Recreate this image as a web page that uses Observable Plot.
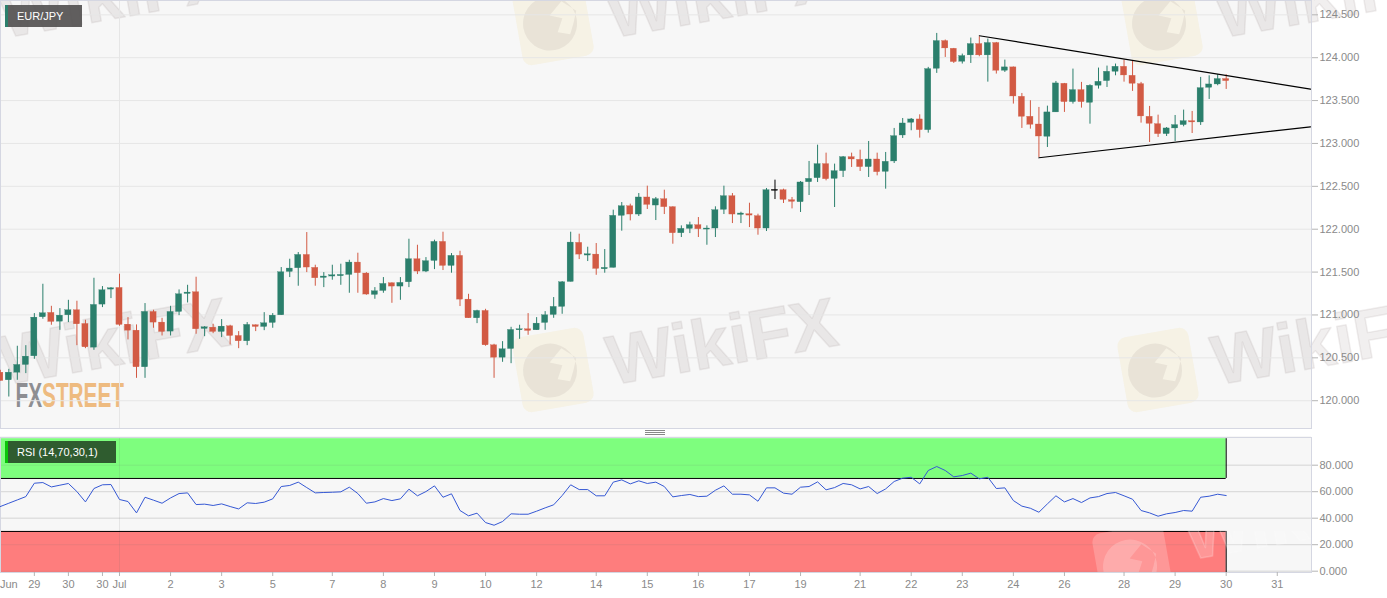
<!DOCTYPE html>
<html>
<head>
<meta charset="utf-8">
<script src="https://cdn.jsdelivr.net/npm/d3@7"></script>
<script src="https://cdn.jsdelivr.net/npm/@observablehq/plot@0.6"></script>
<style>
html,body{margin:0;padding:0;background:#fff;overflow:hidden}
#page{position:relative;width:1387px;height:598px;font-family:"Liberation Sans",Arial,sans-serif}
#page svg{position:absolute;left:0;background:transparent}
.tag{position:absolute;color:#fff;line-height:22px;box-sizing:border-box}
</style>
</head>
<body>
<div id="page"></div>
<script>
const pair = "EUR/JPY";
const rsiName = "RSI (14,70,30,1)";
const opens = [120.327,120.238,120.327,120.417,120.518,120.973,121.024,120.922,120.996,121.055,120.895,120.619,121.121,121.296,121.315,120.887,120.817,120.390,121.035,120.911,120.806,121.035,121.245,121.265,120.837,120.852,120.802,120.868,120.755,120.693,120.880,120.860,120.907,120.996,121.502,121.545,121.700,121.549,121.432,121.448,121.452,121.467,121.611,121.483,121.234,121.280,121.370,121.331,121.381,121.650,121.506,121.630,121.852,121.572,121.689,121.179,120.961,121.047,120.646,120.502,120.603,120.821,120.833,120.821,120.907,121.000,121.094,121.385,121.841,121.693,121.704,121.533,121.549,122.156,122.268,122.171,122.370,122.276,122.350,122.257,121.953,122.004,122.047,121.996,122.008,122.226,122.385,122.167,122.175,122.152,122.008,122.447,122.455,122.338,122.315,122.548,122.595,122.759,122.587,122.677,122.840,122.809,122.724,122.813,122.669,122.790,123.093,123.241,123.280,123.155,123.871,124.194,124.104,123.953,124.027,124.159,124.027,124.171,123.848,123.887,123.544,123.311,123.221,123.078,123.362,123.696,123.482,123.622,123.474,123.673,123.727,123.836,123.894,123.789,123.692,123.311,123.225,123.109,123.175,123.214,123.260,123.245,123.649,123.688,123.751];
const closes = [120.230,120.327,120.417,120.514,120.969,121.020,120.919,120.992,121.055,120.891,120.623,121.117,121.288,121.311,120.884,120.817,120.390,121.035,120.911,120.802,121.035,121.241,121.261,120.833,120.856,120.802,120.864,120.755,120.693,120.884,120.860,120.903,120.992,121.498,121.541,121.700,121.553,121.428,121.448,121.463,121.467,121.611,121.487,121.238,121.276,121.362,121.331,121.374,121.650,121.506,121.627,121.852,121.572,121.689,121.179,120.961,121.047,120.646,120.502,120.600,120.825,120.833,120.814,120.899,120.996,121.094,121.381,121.844,121.704,121.708,121.537,121.549,122.156,122.268,122.171,122.370,122.284,122.350,122.257,121.953,122.004,122.047,122.000,122.008,122.222,122.385,122.171,122.183,122.159,122.008,122.455,122.459,122.342,122.319,122.545,122.587,122.759,122.583,122.677,122.840,122.813,122.724,122.813,122.665,122.786,123.085,123.233,123.280,123.155,123.867,124.194,124.108,123.949,124.019,124.159,124.027,124.171,123.848,123.887,123.548,123.311,123.218,123.081,123.362,123.700,123.482,123.622,123.482,123.673,123.719,123.836,123.894,123.793,123.696,123.315,123.229,123.109,123.175,123.214,123.260,123.245,123.645,123.688,123.751,123.727];
const highs = [120.355,120.366,120.635,120.642,121.016,121.358,121.101,121.074,121.171,121.160,120.938,121.428,121.331,121.319,121.475,120.969,120.884,121.133,121.055,120.961,121.101,121.292,121.346,121.440,120.864,120.891,120.946,120.880,120.806,120.911,120.884,121.027,121.016,121.553,121.650,121.728,121.961,121.580,121.494,121.580,121.592,121.638,121.720,121.494,121.319,121.436,121.374,121.436,121.883,121.813,121.669,121.872,121.965,121.716,121.743,121.241,121.055,121.066,120.658,120.689,120.856,120.880,121.016,120.969,121.039,121.203,121.389,121.965,121.942,121.790,121.833,121.763,122.222,122.311,122.292,122.416,122.502,122.370,122.455,122.261,122.039,122.082,122.136,122.039,122.261,122.502,122.416,122.198,122.303,122.175,122.475,122.572,122.467,122.370,122.556,122.790,122.980,122.887,122.759,122.848,122.887,122.922,123.023,122.887,122.895,123.175,123.291,123.291,123.334,123.887,124.283,124.206,124.108,124.042,124.229,124.245,124.217,124.178,123.972,123.891,123.583,123.498,123.420,123.435,123.723,123.700,123.867,123.712,123.684,123.879,123.902,123.926,123.972,123.957,123.712,123.432,123.330,123.186,123.326,123.389,123.373,123.770,123.789,123.801,123.801];
const lows = [120.230,120.043,120.238,120.316,120.483,120.950,120.880,120.821,120.911,120.642,120.607,120.588,121.086,121.191,120.868,120.709,120.261,120.261,120.845,120.755,120.755,120.992,121.140,120.775,120.747,120.782,120.736,120.650,120.607,120.642,120.806,120.817,120.845,120.996,121.436,121.335,121.494,121.335,121.319,121.405,121.346,121.253,121.253,121.230,121.183,121.253,121.136,121.171,121.319,121.471,121.494,121.529,121.518,121.487,121.098,120.961,120.899,120.635,120.261,120.448,120.432,120.716,120.763,120.821,120.821,120.961,121.008,121.385,121.646,121.623,121.463,121.487,121.549,121.977,122.097,122.148,122.230,122.101,122.171,121.825,121.903,121.949,121.903,121.813,121.903,122.171,122.066,122.066,122.019,121.930,121.973,122.346,122.300,122.237,122.195,122.393,122.545,122.564,122.253,122.603,122.720,122.673,122.603,122.622,122.467,122.766,123.058,123.148,123.062,123.120,123.817,124.003,123.933,123.926,123.933,124.011,123.715,123.809,123.828,123.459,123.175,123.167,122.836,122.953,123.362,123.362,123.459,123.412,123.225,123.634,123.653,123.789,123.715,123.607,123.237,123.011,123.070,123.081,123.023,123.194,123.116,123.210,123.513,123.673,123.630];
const rsi = [48.8,51.3,53.8,56.3,66.4,66.9,63.6,64.9,66.2,60.1,52.3,62.4,65.2,65.4,54.1,52.6,44.0,55.8,53.6,51.3,55.3,58.6,59.1,50.3,50.6,49.6,50.8,48.8,47.0,51.6,51.1,52.1,54.6,63.9,64.7,67.2,63.1,59.1,59.4,59.6,59.9,63.4,58.6,51.3,52.3,54.8,53.3,54.6,61.9,56.9,60.1,64.4,55.8,58.4,45.8,41.8,43.8,36.7,34.7,37.5,43.3,43.0,43.0,45.3,47.8,50.1,57.1,65.2,61.6,61.6,56.9,56.9,67.2,68.9,65.9,68.2,66.2,67.2,63.9,56.1,57.1,57.9,56.3,56.6,61.1,64.4,58.1,58.1,57.6,52.8,62.9,62.9,58.9,58.1,63.4,63.9,67.4,61.4,63.1,66.2,65.2,62.1,63.9,58.6,62.1,67.7,70.2,70.9,65.9,76.0,79.0,76.0,71.2,72.2,74.0,69.7,70.9,62.4,62.9,53.3,49.1,47.5,44.5,50.8,56.9,52.3,54.8,51.8,55.3,56.3,58.6,59.4,56.9,54.3,45.8,44.0,41.5,43.3,44.3,45.8,45.3,55.8,56.6,58.1,57.1];
const priceTicks = [120,120.5,121,121.5,122,122.5,123,123.5,124,124.5];
const rsiTicks = [0,20,40,60,80];
const dateIdx = [4,8,12,14,20,26,32,39,45,51,57,63,70,76,82,88,94,101,107,113,119,125,132,138,144,150];
const dateLabels = ["29","30","30","Jul","2","3","5","7","8","9","10","12","14","15","16","17","19","21","22","23","24","26","28","29","30","31"];
const junIdx = 1;
const julIdx = 14;
const upperTrendX = [115,153.9], upperTrendY = [124.256,123.634];
const lowerTrendX = [122,153.9], lowerTrendY = [122.833,123.194];
const xDomain = [0.0235,154.02];
const priceDomain = [119.676,124.667];
const rsiDomain = [-0.98,100.9];
const hoverIdx = 91;

const up = "#2b7f6c", down = "#d25a44", axisC = "#8a8a8a", gridC = "#e6e6e6", frameC = "#d5d7e2";
const candles = opens.map((o,i)=>({i,open:o,close:closes[i],high:highs[i],low:lows[i],
  c: i===hoverIdx ? "#000" : (closes[i]>=o ? up : down)}));
const page = document.getElementById("page");

function wm(lx,ly,tx,ty,fillLogo,fillInk){
  return `<g transform="translate(${lx},${ly}) rotate(-10)">
    <rect x="-36" y="-38" width="72" height="76" rx="9" fill="${fillLogo}"/>
    <path fill-rule="evenodd" fill="${fillInk}" d="M-3,-27 A27,27 0 1 1 -3,27 A27,27 0 1 1 -3,-27 Z M-2,-8 L10,-3 L3,10 L15,14 L20,4 L25,-8 L12,-20 Z"/>
  </g>
  <text x="${tx}" y="${ty}" transform="rotate(-10 ${tx} ${ty})" text-anchor="middle" font-family="Liberation Sans" font-weight="700" font-size="70" fill="${fillInk}" stroke="${fillInk}" stroke-width="1.5" stroke-linejoin="round">WikiFX</text>`;
}
const ink = "rgba(130,110,105,.11)", gold = "rgba(243,205,110,.13)";
const back = document.createElementNS("http://www.w3.org/2000/svg","svg");
back.setAttribute("width",1387);back.setAttribute("height",598);back.style.top="0";
back.innerHTML = `<rect x="0" y="0" width="1311" height="428" fill="#f7f7f7"/>
<rect x="0" y="436" width="1311" height="136" fill="#f7f7f7"/>
${wm(553,370,726,365,gold,ink)}${wm(1158,370,1331,365,gold,ink)}${wm(-55,370,118,365,gold,ink)}
${wm(553,23,726,18,gold,ink)}${wm(1162,23,1335,18,gold,ink)}${wm(-55,23,118,18,gold,ink)}
<text x="15.5" y="407" font-family="Liberation Sans Narrow,Liberation Sans" font-weight="700" font-size="35" textLength="108.5" lengthAdjust="spacingAndGlyphs"><tspan fill="#8e8e92">FX</tspan><tspan fill="#eebb80">STREET</tspan></text>`;
page.appendChild(back);

const top_ = Plot.plot({
  width:1387,height:429,marginLeft:0,marginRight:76,marginTop:0,marginBottom:1,
  style:{background:"transparent",fontFamily:"Liberation Sans",fontSize:"11px"},
  x:{domain:xDomain,axis:null},
  y:{domain:priceDomain,axis:null},
  color:{type:"identity"},
  marks:[
    Plot.ruleY(priceTicks,{stroke:gridC,strokeWidth:1}),
    Plot.ruleX([julIdx],{stroke:gridC,strokeWidth:1}),
    Plot.frame({stroke:frameC}),
    Plot.axisY({anchor:"right",ticks:priceTicks,tickFormat:d3.format(".3f"),tickSize:6,tickPadding:2,label:null,color:axisC,stroke:"#b5b5b5"}),
    Plot.ruleX(candles,{x:"i",y1:"low",y2:"high",stroke:"c",strokeWidth:1}),
    Plot.rect(candles,{x1:d=>d.i-0.36,x2:d=>d.i+0.36,y1:"open",y2:"close",fill:"c",stroke:"c",strokeWidth:0.3}),
    Plot.line(upperTrendX.map((x,k)=>[x,upperTrendY[k]]),{stroke:"#000",strokeWidth:1.2}),
    Plot.line(lowerTrendX.map((x,k)=>[x,lowerTrendY[k]]),{stroke:"#000",strokeWidth:1.2})
  ]
});
top_.style.top="0";
page.appendChild(top_);

const rsiPlot = Plot.plot({
  width:1387,height:162,marginLeft:0,marginRight:76,marginTop:1,marginBottom:26,
  style:{background:"transparent",fontFamily:"Liberation Sans",fontSize:"11px"},
  x:{domain:xDomain,axis:null},
  y:{domain:rsiDomain,axis:null},
  marks:[
    Plot.ruleY(rsiTicks,{stroke:gridC,strokeWidth:1}),
    Plot.rect([0],{x1:0,x2:144,y1:70,y2:100,fill:"#7efe7e"}),
    Plot.rect([0],{x1:0,x2:144,y1:rsiDomain[0],y2:30,fill:"#fe7d7d"}),
    Plot.ruleY(rsiTicks,{stroke:"rgba(110,110,110,.13)",strokeWidth:1}),
    Plot.ruleX([julIdx],{stroke:"rgba(110,110,110,.13)",strokeWidth:1}),
    Plot.ruleY([70,30],{x1:0,x2:144,stroke:"#000",strokeWidth:1}),
    Plot.ruleX([144],{y1:70,y2:100,stroke:"#000",strokeWidth:1}),
    Plot.ruleX([144],{y1:rsiDomain[0],y2:30,stroke:"#000",strokeWidth:1}),
    Plot.ruleX([xDomain[0]],{y1:30,y2:rsiDomain[0],stroke:"#000",strokeWidth:1}),
    Plot.frame({stroke:frameC}),
    Plot.line(rsi,{x:(d,i)=>i,y:d=>d,stroke:"#3558d4",strokeWidth:1}),
    Plot.axisY({anchor:"right",ticks:rsiTicks,tickFormat:d3.format(".3f"),tickSize:6,tickPadding:2,label:null,color:axisC,stroke:"#b5b5b5"}),
    Plot.axisX({anchor:"bottom",ticks:dateIdx,tickFormat:i=>dateLabels[dateIdx.indexOf(i)],tickSize:4,tickPadding:4,label:null,color:axisC,stroke:"#b5b5b5"}),
    Plot.axisX({anchor:"bottom",ticks:[junIdx],tickFormat:()=>"Jun",tickSize:0,tickPadding:8,label:null,color:axisC})
  ]
});
rsiPlot.style.top="436px";
page.appendChild(rsiPlot);

const over = document.createElementNS("http://www.w3.org/2000/svg","svg");
over.setAttribute("width",1387);over.setAttribute("height",598);over.style.top="0";
over.innerHTML = `<defs><clipPath id="c"><rect x="1090" y="531" width="297" height="41"/></clipPath></defs><g clip-path="url(#c)">${wm(1133,566,1303,540,"rgba(255,255,255,.2)","rgba(255,255,255,.2)")}</g>`;
page.appendChild(over);

function tag(left,top,w,bg,band,txt,size){
  const d=document.createElement("div");d.className="tag";
  d.style.cssText=`left:${left}px;top:${top}px;width:${w}px;height:22px;background:${bg};border-left:3px solid ${band};padding-left:9px;font-size:${size}px`;
  d.textContent=txt;page.appendChild(d);
}
tag(5,5,77,"rgba(85,83,83,.93)",up,pair,11);
tag(5,441,111,"#2f5c2f","#0ac40a",rsiName,11);
const h=document.createElement("div");
h.style.cssText="position:absolute;left:645px;top:430px;width:20px;height:5px;border-top:1px solid #888;border-bottom:1px solid #888;box-sizing:border-box;background:linear-gradient(#888,#888) 0 1px/100% 1px no-repeat";
page.appendChild(h);
</script>
</body>
</html>
